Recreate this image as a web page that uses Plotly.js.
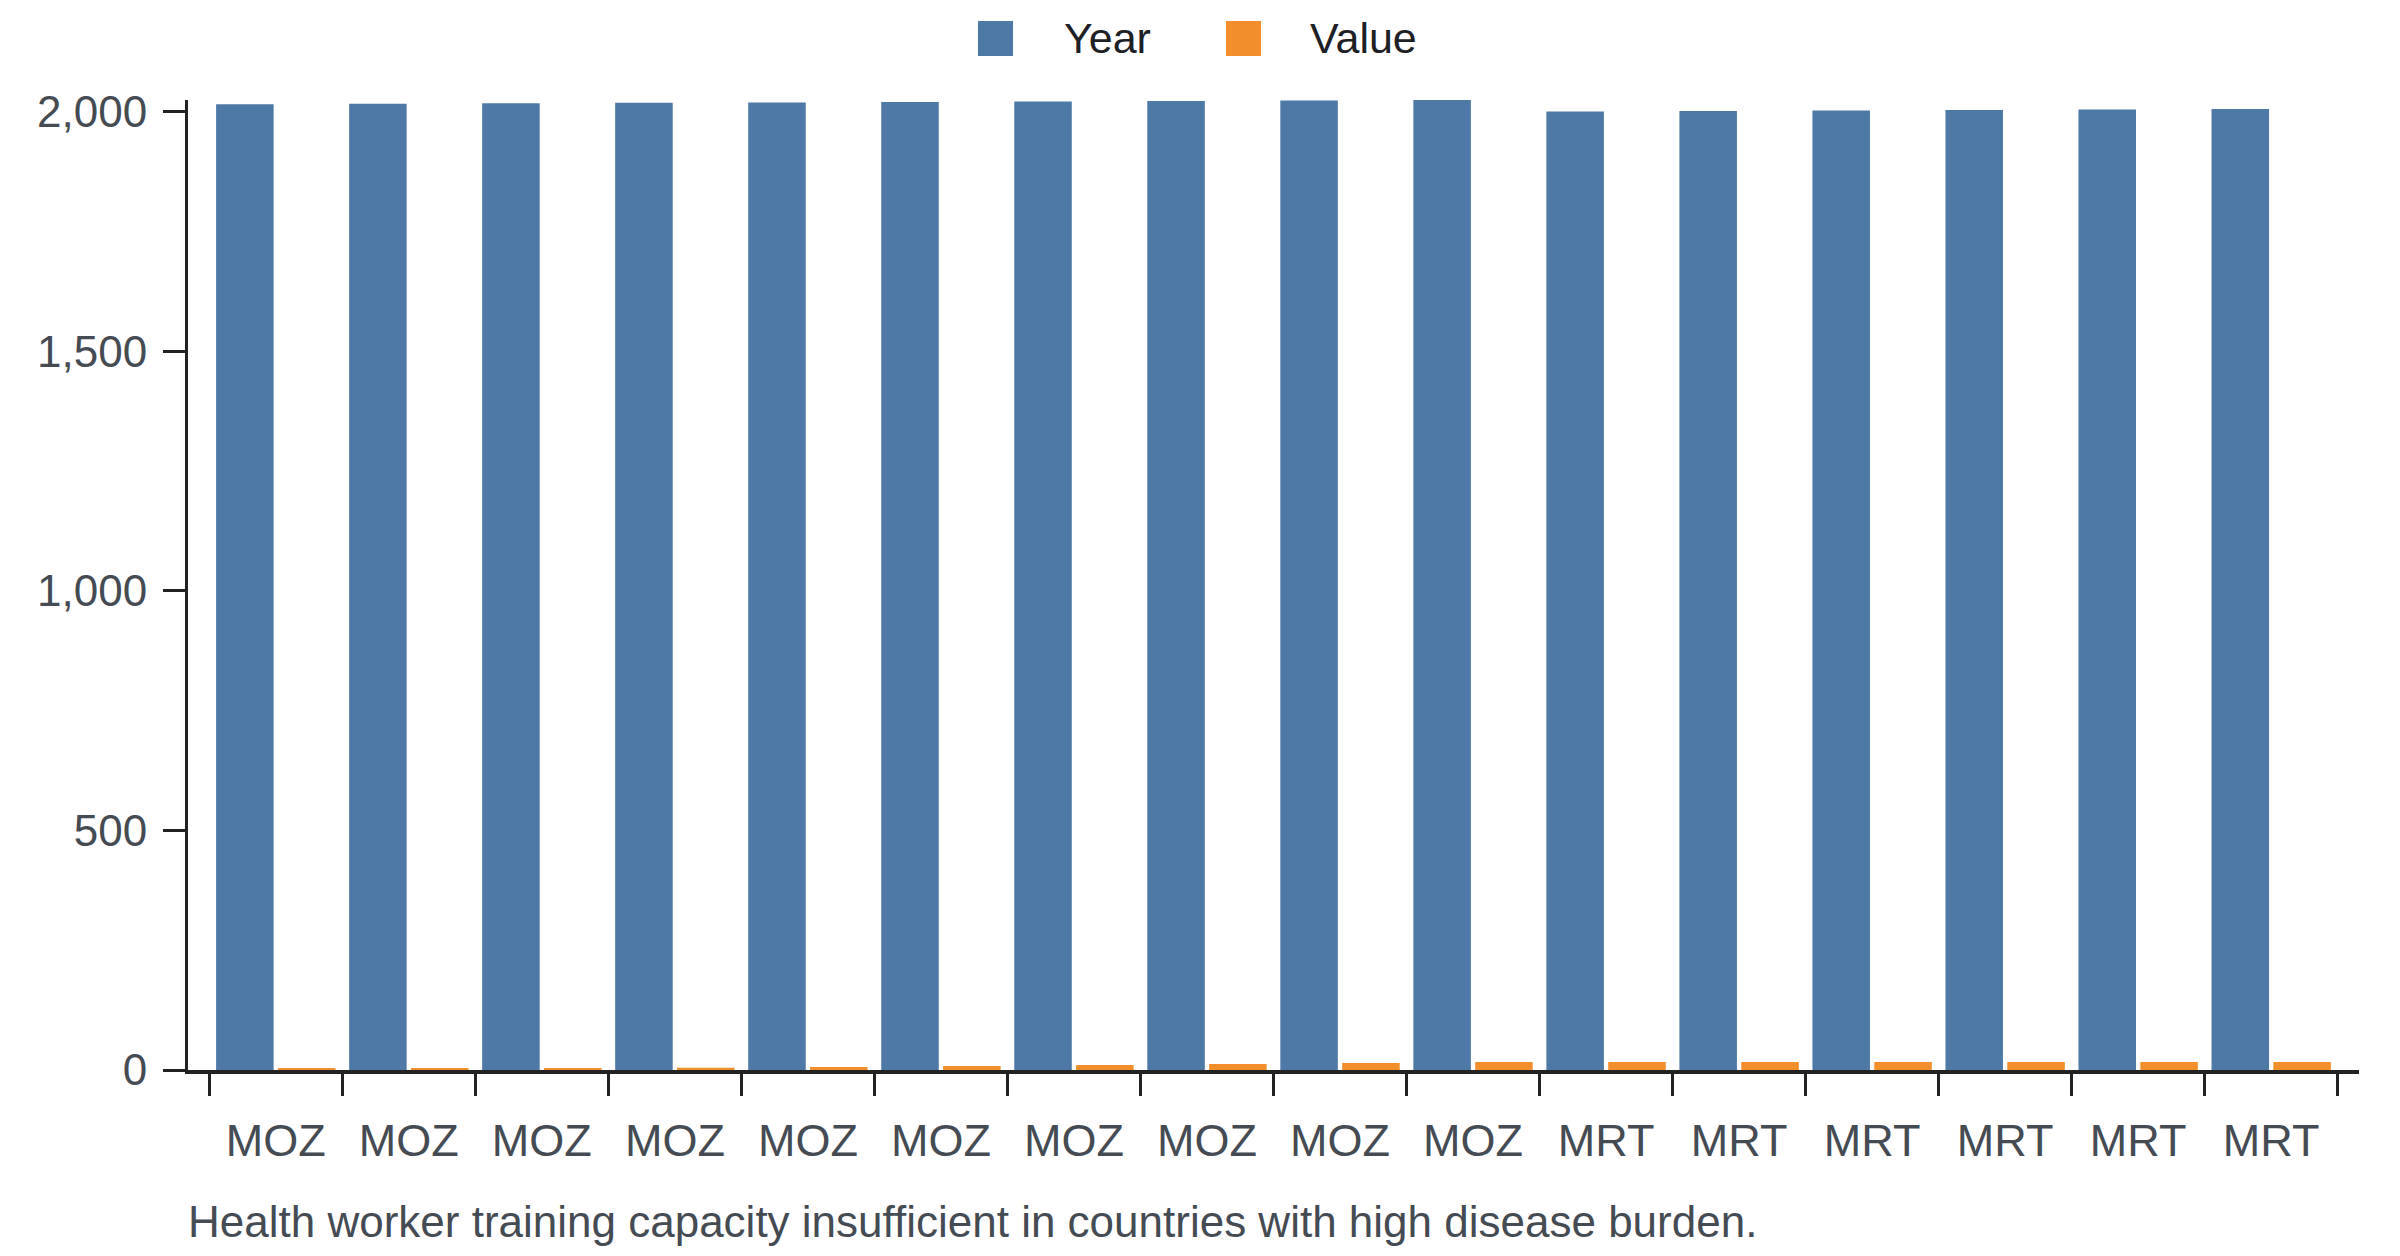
<!DOCTYPE html>
<html>
<head>
<meta charset="utf-8">
<script src="https://cdn.plot.ly/plotly-3.0.1.min.js"></script>
<style>
  html, body { margin: 0; padding: 0; background: #fff; }
  #chart { width: 2400px; height: 1256px; }
</style>
</head>
<body>
<div id="chart"></div>
<script>
  // values
  const countries = ["MOZ", "MOZ", "MOZ", "MOZ", "MOZ", "MOZ", "MOZ", "MOZ", "MOZ", "MOZ",
                     "MRT", "MRT", "MRT", "MRT", "MRT", "MRT"];
  const years = [2016, 2017, 2018, 2019, 2020, 2021, 2022, 2023, 2024, 2025,
                 2001, 2002, 2003, 2004, 2005, 2006];
  const values = [4.2, 4.3, 4.4, 4.5, 6.3, 8.4, 10.4, 12.5, 14.6, 16.7,
                  16.6, 16.7, 16.8, 16.7, 16.8, 16.9];
  const seriesNames = ["Year", "Value"];
  const seriesColors = ["#4e79a7", "#f28e2b"];
  const yTicks = [0, 500, 1000, 1500, 2000];
  const caption = "Health worker training capacity insufficient in countries with high disease burden.";

  const W = 2400, H = 1256;
  const margin = { l: 188, r: 41, t: 100, b: 186, pad: 0 };
  const plotW = W - margin.l - margin.r;
  const plotH = H - margin.t - margin.b;
  const fontFamily = '"Liberation Sans", Arial, sans-serif';
  const tickColor = "#454b53";

  // pixel -> paper helpers for the hand-made legend and caption
  const px = (x) => (x - margin.l) / plotW;
  const py = (y) => (H - margin.b - y) / plotH;

  // categories must be unique, labels show the country code only
  const ids = countries.map((c, i) => `${c}-${i}`);

  const traces = [years, values].map((ys, k) => ({
    type: "bar",
    name: seriesNames[k],
    x: ids,
    y: ys,
    marker: { color: seriesColors[k], line: { width: 0 } },
    hoverinfo: "skip",
  }));

  // legend drawn by hand so the swatches can be as big as the reference
  const swatchX = [978, 1226];
  const labelX = [1062, 1308];
  const shapes = seriesNames.map((name, k) => ({
    type: "rect",
    xref: "paper",
    yref: "paper",
    x0: px(swatchX[k]),
    x1: px(swatchX[k] + 35),
    y0: py(21),
    y1: py(56),
    fillcolor: seriesColors[k],
    line: { width: 0 },
  }));
  const annotations = seriesNames.map((name, k) => ({
    text: name,
    xref: "paper",
    yref: "paper",
    x: px(labelX[k]),
    y: py(38),
    xanchor: "left",
    yanchor: "middle",
    showarrow: false,
    font: { family: fontFamily, size: 43, color: "#1d2024" },
  }));
  annotations.push({
    text: caption,
    xref: "paper",
    yref: "paper",
    x: px(186),
    y: py(1221),
    xanchor: "left",
    yanchor: "middle",
    showarrow: false,
    font: { family: fontFamily, size: 44, color: tickColor },
  });

  const layout = {
    width: W,
    height: H,
    margin,
    paper_bgcolor: "#fff",
    plot_bgcolor: "#fff",
    showlegend: false,
    barmode: "group",
    bargap: 0.07,
    bargroupgap: 0.07,
    font: { family: fontFamily, size: 44, color: tickColor },
    xaxis: {
      type: "category",
      range: [-0.66, ids.length - 0.34],
      tickmode: "array",
      tickvals: ids,
      ticktext: countries,
      tickson: "boundaries",
      ticks: "outside",
      ticklen: 22,
      tickwidth: 3,
      tickcolor: "#222",
      showline: true,
      linecolor: "#222",
      linewidth: 4,
      showgrid: false,
      zeroline: false,
      ticklabelstandoff: 28,
      tickfont: { family: fontFamily, size: 45, color: tickColor },
      fixedrange: true,
    },
    yaxis: {
      range: [0, Math.max(...years)],
      tickmode: "array",
      tickvals: yTicks,
      tickformat: ",",
      ticks: "outside",
      ticklen: 22,
      tickwidth: 3,
      tickcolor: "#222",
      showline: true,
      linecolor: "#222",
      linewidth: 3,
      showgrid: false,
      zeroline: false,
      ticklabelstandoff: 7,
      tickfont: { family: fontFamily, size: 44, color: tickColor },
      fixedrange: true,
    },
    shapes,
    annotations,
  };

  Plotly.newPlot("chart", traces, layout, { displayModeBar: false, staticPlot: true });
</script>
</body>
</html>
